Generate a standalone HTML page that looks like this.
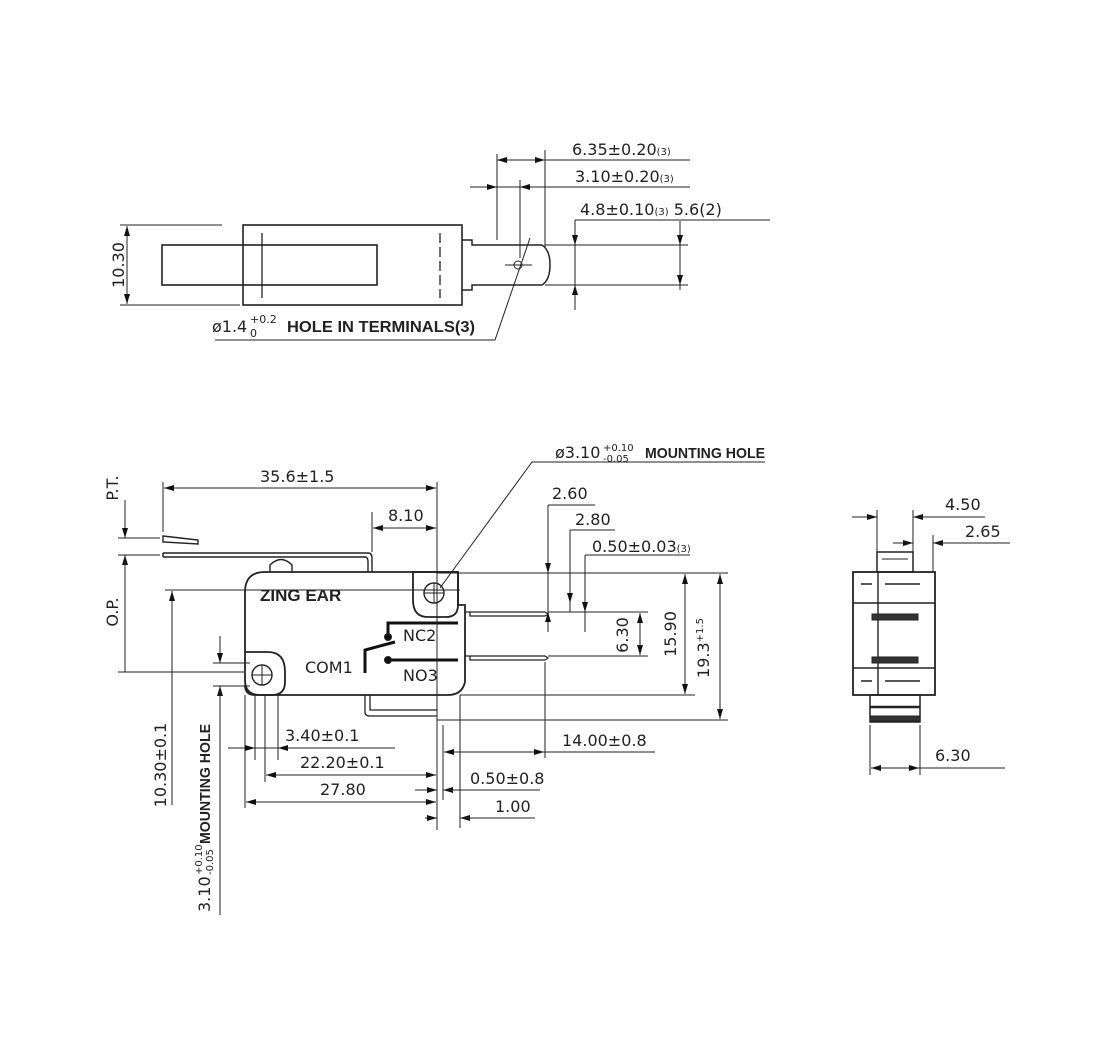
<!DOCTYPE html>
<html><head><meta charset="utf-8"><style>
html,body{margin:0;padding:0;background:#fff}
svg{display:block}
text{font-family:"DejaVu Sans","Liberation Sans",sans-serif;fill:#222;font-size:16px}
.b{font-family:"Liberation Sans",sans-serif;font-weight:bold}
</style></head><body>
<svg width="1104" height="1060" viewBox="0 0 1104 1060" xmlns="http://www.w3.org/2000/svg">
<defs>
<marker id="a" viewBox="0 0 10 6" refX="10" refY="3" markerWidth="10" markerHeight="6" orient="auto-start-reverse" markerUnits="userSpaceOnUse"><path d="M0,0L10,3L0,6z" fill="#111"/></marker>
</defs>
<g stroke="#222" stroke-width="1" fill="none">
<!-- ===== TOP VIEW ===== -->
<rect x="243" y="225" width="219" height="80" stroke-width="1.6"/>
<rect x="162" y="245" width="215" height="40" stroke-width="1.6"/>
<line x1="262" y1="233" x2="262" y2="298" stroke-width="1.3"/>
<line x1="440" y1="233" x2="440" y2="298" stroke-width="1.3" stroke-dasharray="10,4"/>
<path d="M462,240 L472,240 L472,245 L542,245 Q550,250 550,265 Q550,280 542,285 L472,285 L472,290 L462,290" stroke-width="1.5"/>
<line x1="505" y1="265" x2="532" y2="265"/>
<circle cx="518" cy="265" r="4"/>
<line x1="120" y1="225" x2="222" y2="225"/><line x1="120" y1="305" x2="240" y2="305"/>
<line x1="127" y1="226" x2="127" y2="304" marker-start="url(#a)" marker-end="url(#a)"/>
<line x1="497" y1="154" x2="497" y2="240"/><line x1="520" y1="180" x2="520" y2="258"/><line x1="545" y1="150" x2="545" y2="248"/>
<line x1="497" y1="160" x2="690" y2="160"/>
<line x1="497" y1="160" x2="514" y2="160" marker-start="url(#a)"/>
<line x1="528" y1="160" x2="545" y2="160" marker-end="url(#a)"/>
<line x1="470" y1="187" x2="690" y2="187"/>
<line x1="480" y1="187" x2="497" y2="187" marker-end="url(#a)"/>
<line x1="520" y1="187" x2="537" y2="187" marker-start="url(#a)"/>
<line x1="545" y1="245" x2="582" y2="245"/><line x1="545" y1="285" x2="582" y2="285"/>
<line x1="575" y1="220" x2="575" y2="310"/>
<line x1="575" y1="230" x2="575" y2="245" marker-end="url(#a)"/>
<line x1="575" y1="300" x2="575" y2="285" marker-end="url(#a)"/>
<line x1="575" y1="220" x2="680" y2="220"/><line x1="680" y1="220" x2="770" y2="220"/>
<line x1="582" y1="245" x2="688" y2="245"/><line x1="582" y1="285" x2="688" y2="285"/>
<line x1="680" y1="221" x2="680" y2="290"/>
<line x1="680" y1="233" x2="680" y2="245" marker-end="url(#a)"/>
<line x1="680" y1="273" x2="680" y2="285" marker-end="url(#a)"/>
<polyline points="530,238 495,340 215,340"/>
<!-- ===== FRONT VIEW ===== -->
<path d="M265,572 L458,572 L458,605 L465,605 L465,682 Q462,695 448,695 L260,695 Q245,695 245,680 L245,592 Q245,572 265,572 Z" stroke-width="1.8"/>
<path d="M413,572 L458,572 L458,605 Q458,617 446,617 L428,617 Q413,617 413,600 Z" stroke-width="1.8"/>
<circle cx="434" cy="593" r="10" stroke-width="1.4"/>
<path d="M245,652 L268,652 Q285,652 285,672 L285,682 Q285,695 272,695 L255,695 Q245,695 245,685" stroke-width="1.8"/>
<circle cx="262" cy="675" r="10" stroke-width="1.4"/>
<line x1="252" y1="675" x2="272" y2="675"/><line x1="262" y1="665" x2="262" y2="685"/>
<line x1="424" y1="593" x2="444" y2="593"/><line x1="434" y1="583" x2="434" y2="603"/>
<path d="M163,553 L368,553 Q372,553 372,558 L372,572 M163,557 L366,557 Q368,558 368,562 L368,572 M163,553 L163,557" stroke-width="1.4"/>
<path d="M163,536 L198,540 L198,544 L163,542 Z" stroke-width="1.4"/>
<path d="M270,572 L270,565 Q281,554 292,565 L292,572" stroke-width="1.4"/>
<path d="M465,612 L470,612 L470,616 L545,616 M470,612 L545,612 L548,614 L545,616" stroke-width="1.3"/>
<path d="M465,656 L470,656 L470,660 L545,660 M470,656 L545,656 L548,658 L545,660" stroke-width="1.3"/>
<path d="M365,695 L365,712 Q365,716 370,716 L437,716 M370,695 L370,710 L437,710" stroke-width="1.3"/>
<g stroke="#111" stroke-width="3"><polyline points="388,637 388,623 458,623"/><line x1="388" y1="660" x2="458" y2="660"/><polyline points="365,673 365,650 395,642"/></g>
<circle cx="388" cy="637" r="3.5" fill="#111"/><circle cx="388" cy="660" r="3.5" fill="#111"/>
<!-- dims front -->
<line x1="163" y1="482" x2="163" y2="532"/><line x1="437" y1="482" x2="437" y2="830"/>
<line x1="164" y1="488" x2="436" y2="488" marker-start="url(#a)" marker-end="url(#a)"/>
<line x1="372" y1="512" x2="372" y2="552"/>
<line x1="373" y1="528" x2="436" y2="528" marker-start="url(#a)" marker-end="url(#a)"/>
<line x1="118" y1="538" x2="160" y2="538"/><line x1="118" y1="555" x2="160" y2="555"/>
<line x1="125" y1="500" x2="125" y2="538" marker-end="url(#a)"/>
<line x1="125" y1="575" x2="125" y2="555" marker-end="url(#a)"/>
<line x1="125" y1="555" x2="125" y2="672"/>
<line x1="118" y1="672" x2="245" y2="672"/>
<line x1="165" y1="590" x2="460" y2="590"/>
<line x1="172" y1="591" x2="172" y2="805" marker-start="url(#a)"/>
<line x1="213" y1="663" x2="250" y2="663"/><line x1="213" y1="686" x2="250" y2="686"/>
<line x1="220" y1="636" x2="220" y2="663" marker-end="url(#a)"/>
<line x1="220" y1="710" x2="220" y2="686" marker-end="url(#a)"/>
<line x1="220" y1="686" x2="220" y2="915"/>
<polyline points="440,588 532,462 765,462"/>
<line x1="548" y1="505" x2="595" y2="505"/><line x1="548" y1="505" x2="548" y2="632"/>
<line x1="570" y1="530" x2="615" y2="530"/><line x1="570" y1="530" x2="570" y2="612"/>
<line x1="585" y1="555" x2="690" y2="555"/><line x1="585" y1="555" x2="585" y2="632"/>
<line x1="548" y1="560" x2="548" y2="573" marker-end="url(#a)"/>
<line x1="548" y1="620" x2="548" y2="612" marker-end="url(#a)"/>
<line x1="570" y1="590" x2="570" y2="603" marker-end="url(#a)"/>
<line x1="585" y1="600" x2="585" y2="612" marker-end="url(#a)"/>
<line x1="437" y1="573" x2="728" y2="573"/>
<line x1="548" y1="612" x2="648" y2="612"/><line x1="548" y1="656" x2="648" y2="656"/>
<line x1="640" y1="613" x2="640" y2="655" marker-start="url(#a)" marker-end="url(#a)"/>
<line x1="460" y1="695" x2="695" y2="695"/>
<line x1="685" y1="574" x2="685" y2="694" marker-start="url(#a)" marker-end="url(#a)"/>
<line x1="437" y1="720" x2="728" y2="720"/>
<line x1="720" y1="574" x2="720" y2="719" marker-start="url(#a)" marker-end="url(#a)"/>
<line x1="245" y1="695" x2="245" y2="808"/><line x1="255" y1="695" x2="255" y2="760"/>
<line x1="265" y1="695" x2="265" y2="782"/><line x1="278" y1="695" x2="278" y2="760"/>
<line x1="443" y1="725" x2="443" y2="800"/><line x1="460" y1="695" x2="460" y2="828"/>
<line x1="545" y1="662" x2="545" y2="758"/>
<line x1="228" y1="748" x2="395" y2="748"/>
<line x1="235" y1="748" x2="255" y2="748" marker-end="url(#a)"/>
<line x1="295" y1="748" x2="278" y2="748" marker-end="url(#a)"/>
<line x1="444" y1="752" x2="544" y2="752" marker-start="url(#a)" marker-end="url(#a)"/>
<line x1="544" y1="752" x2="655" y2="752"/>
<line x1="266" y1="775" x2="436" y2="775" marker-start="url(#a)" marker-end="url(#a)"/>
<line x1="415" y1="790" x2="437" y2="790" marker-end="url(#a)"/>
<line x1="460" y1="790" x2="443" y2="790" marker-end="url(#a)"/>
<line x1="443" y1="790" x2="540" y2="790"/>
<line x1="246" y1="802" x2="436" y2="802" marker-start="url(#a)" marker-end="url(#a)"/>
<line x1="425" y1="818" x2="437" y2="818" marker-end="url(#a)"/>
<line x1="475" y1="818" x2="460" y2="818" marker-end="url(#a)"/>
<line x1="460" y1="818" x2="535" y2="818"/>
<!-- ===== SIDE VIEW ===== -->
<rect x="877" y="552" width="36" height="20" stroke-width="1.5"/>
<line x1="882" y1="559" x2="908" y2="559"/>
<rect x="853" y="572" width="82" height="123" stroke-width="1.8"/>
<line x1="853" y1="603" x2="935" y2="603" stroke-width="1.4"/><line x1="853" y1="668" x2="935" y2="668" stroke-width="1.4"/>
<line x1="878" y1="572" x2="878" y2="695" stroke-width="1.4"/>
<line x1="861" y1="584" x2="872" y2="584" stroke-width="1.5"/><line x1="885" y1="584" x2="920" y2="584" stroke-width="1.5"/>
<line x1="861" y1="681" x2="872" y2="681" stroke-width="1.5"/><line x1="885" y1="681" x2="920" y2="681" stroke-width="1.5"/>
<rect x="872" y="614" width="46" height="6" fill="#333"/><rect x="872" y="657" width="46" height="6" fill="#333"/>
<rect x="870" y="695" width="50" height="27" stroke-width="1.5"/>
<line x1="870" y1="707" x2="920" y2="707" stroke-width="2.5"/>
<rect x="870" y="716" width="50" height="5" fill="#333"/>
<line x1="877" y1="510" x2="877" y2="555"/><line x1="913" y1="510" x2="913" y2="552"/>
<line x1="852" y1="517" x2="877" y2="517" marker-end="url(#a)"/>
<line x1="935" y1="517" x2="913" y2="517" marker-end="url(#a)"/>
<line x1="913" y1="517" x2="985" y2="517"/>
<line x1="933" y1="535" x2="933" y2="572"/>
<line x1="893" y1="543" x2="913" y2="543" marker-end="url(#a)"/>
<line x1="950" y1="543" x2="933" y2="543" marker-end="url(#a)"/>
<line x1="933" y1="543" x2="1010" y2="543"/>
<line x1="870" y1="725" x2="870" y2="775"/><line x1="920" y1="725" x2="920" y2="775"/>
<line x1="871" y1="768" x2="919" y2="768" marker-start="url(#a)" marker-end="url(#a)"/>
<line x1="919" y1="768" x2="1005" y2="768"/>
</g>
<!-- TEXT -->
<text x="572" y="155">6.35±0.20<tspan style="font-size:10px">(3)</tspan></text>
<text x="575" y="182">3.10±0.20<tspan style="font-size:10px">(3)</tspan></text>
<text x="580" y="215">4.8±0.10<tspan style="font-size:10px">(3)</tspan> 5.6(2)</text>
<text transform="translate(124,265) rotate(-90)" text-anchor="middle">10.30</text>
<text x="212" y="332">ø1.4</text>
<text x="250" y="323" style="font-size:11px">+0.2</text>
<text x="250" y="337" style="font-size:11px">0</text>
<text x="287" y="332" class="b" style="font-size:16px" textLength="188" lengthAdjust="spacingAndGlyphs">HOLE IN TERMINALS(3)</text>
<text x="555" y="458">ø3.10</text>
<text x="603" y="451" style="font-size:10px">+0.10</text>
<text x="603" y="462" style="font-size:10px">-0.05</text>
<text x="645" y="458" class="b" style="font-size:15px" textLength="120" lengthAdjust="spacingAndGlyphs">MOUNTING HOLE</text>
<text x="260" y="482">35.6±1.5</text>
<text x="388" y="521">8.10</text>
<text x="552" y="499">2.60</text>
<text x="575" y="525">2.80</text>
<text x="592" y="552">0.50±0.03<tspan style="font-size:10px">(3)</tspan></text>
<text x="260" y="601" class="b" style="font-size:17px">ZING EAR</text>
<text x="403" y="641">NC2</text><text x="305" y="673">COM1</text><text x="403" y="681">NO3</text>
<text transform="translate(118,488) rotate(-90)" text-anchor="middle">P.T.</text>
<text transform="translate(118,612) rotate(-90)" text-anchor="middle">O.P.</text>
<text transform="translate(628,635) rotate(-90)" text-anchor="middle">6.30</text>
<text transform="translate(676,634) rotate(-90)" text-anchor="middle">15.90</text>
<text transform="translate(709,648) rotate(-90)" text-anchor="middle">19.3<tspan style="font-size:10px" dy="-6">+1.5</tspan></text>
<text transform="translate(166,765) rotate(-90)" text-anchor="middle">10.30±0.1</text>
<g transform="translate(210,912) rotate(-90)">
<text x="0" y="0">3.10</text>
<text x="37" y="-8" style="font-size:10px">+0.10</text>
<text x="37" y="3" style="font-size:10px">-0.05</text>
<text x="68" y="0" class="b" style="font-size:15px" textLength="120" lengthAdjust="spacingAndGlyphs">MOUNTING HOLE</text>
</g>
<text x="285" y="741">3.40±0.1</text>
<text x="562" y="746">14.00±0.8</text>
<text x="300" y="768">22.20±0.1</text>
<text x="470" y="784">0.50±0.8</text>
<text x="320" y="795">27.80</text>
<text x="495" y="812">1.00</text>
<text x="945" y="510">4.50</text>
<text x="965" y="537">2.65</text>
<text x="935" y="761">6.30</text>
</svg>
</body></html>
